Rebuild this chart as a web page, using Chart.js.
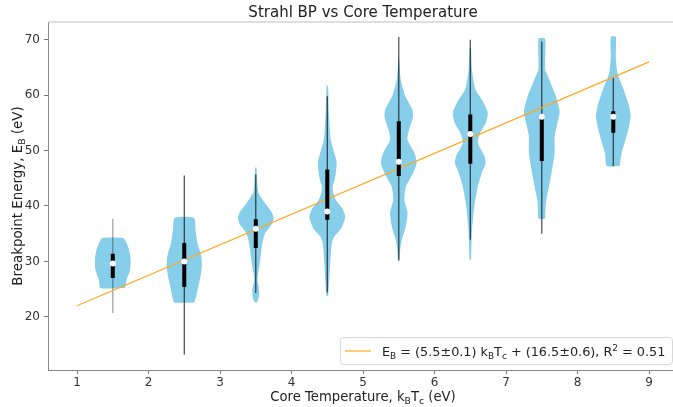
<!DOCTYPE html>
<html>
<head>
<meta charset="utf-8">
<script src="https://cdn.jsdelivr.net/npm/chart.js@4.4.1/dist/chart.umd.min.js"></script>
<style>
  html, body { margin: 0; padding: 0; background: #fff; overflow: hidden; }
</style>
</head>
<body>
<canvas id="chart" width="673" height="407"></canvas>
<script>
// temperature bins (violin centres)
const binCentres = [1.5, 2.5, 3.5, 4.5, 5.5, 6.5, 7.5, 8.5];

// violin outlines: [energy, relative density width]
const violinShapes = [
  [[25.2, 0.69], [26.7, 0.78], [28.5, 0.97], [30.3, 1.0], [32.1, 0.91], [33.4, 0.76], [34.2, 0.58]],
  [[22.6, 0.56], [23.7, 0.67], [25.5, 0.79], [27.3, 0.91], [29.1, 0.98], [30.9, 0.95], [33.3, 0.74], [35.7, 0.63], [37.85, 0.54]],
  [[22.6, 0.06], [23.3, 0.15], [24.4, 0.2], [25.5, 0.16], [26.7, 0.09], [27.9, 0.13], [30.3, 0.25], [32.7, 0.34], [34.4, 0.45],
   [35.1, 0.52], [36.6, 0.88], [37.8, 1.0], [39.0, 0.87], [40.6, 0.5], [42.4, 0.15], [44.8, 0.07], [46.9, 0.04]],
  [[23.8, 0.05], [26.7, 0.11], [29.0, 0.15], [31.5, 0.2], [33.4, 0.26], [34.5, 0.39], [36.0, 0.79], [38.0, 1.0], [39.5, 0.85],
   [41.0, 0.5], [42.4, 0.33], [43.5, 0.3], [44.8, 0.42], [46.5, 0.5], [48.0, 0.52], [49.5, 0.4], [52.0, 0.19], [56.8, 0.09], [61.7, 0.04]],
  [[30.0, 0.03], [32.1, 0.08], [33.9, 0.17], [36.3, 0.39], [38.8, 0.49], [41.1, 0.31], [43.5, 0.4], [46.0, 0.81], [47.8, 1.0],
   [49.6, 0.87], [52.0, 0.48], [53.8, 0.58], [55.9, 0.79], [57.4, 0.76], [59.8, 0.37], [62.8, 0.11], [65.8, 0.04], [66.5, 0.02]],
  [[30.3, 0.04], [35.7, 0.1], [40.0, 0.23], [43.5, 0.42], [46.0, 0.65], [47.8, 0.86], [49.0, 0.79], [51.4, 0.42], [53.2, 0.56],
   [55.0, 0.87], [56.8, 0.98], [58.9, 0.7], [61.0, 0.29], [64.6, 0.09], [68.5, 0.04]],
  [[37.7, 0.18], [40.6, 0.23], [43.5, 0.4], [46.6, 0.58], [49.6, 0.72], [52.6, 0.72], [55.0, 0.88], [57.1, 1.0], [59.8, 0.79],
   [62.8, 0.42], [64.5, 0.2], [65.8, 0.18], [70.2, 0.18]],
  [[47.2, 0.36], [49.6, 0.47], [52.0, 0.69], [54.4, 0.88], [56.2, 0.97], [58.0, 0.88], [61.0, 0.58], [64.0, 0.23], [67.0, 0.14], [70.5, 0.14]]
];

// whisker ends, quartiles and medians per bin
const whiskerLow  = [20.7, 13.2, 24.3, 24.4, 30.2, 33.9, 35.0, 47.2];
const whiskerHigh = [37.7, 45.5, 45.7, 59.8, 70.5, 70.0, 69.7, 63.1];
const quartile1   = [27.0, 25.4, 32.4, 37.5, 45.4, 47.6, 48.1, 53.2];
const quartile3   = [31.4, 33.3, 37.6, 46.6, 55.3, 56.5, 56.5, 57.1];
const medians     = [29.6, 30.0, 35.9, 39.0, 48.0, 53.0, 56.1, 56.1];

// linear fit E_B = 5.5 kT + 16.5
const fitX = [1, 9];
const fitY = [22.0, 66.0];

const xTicks = [1, 2, 3, 4, 5, 6, 7, 8, 9];
const yTicks = [20, 30, 40, 50, 60, 70];

Chart.defaults.font.family = "'DejaVu Sans', sans-serif";
Chart.defaults.color = '#333';

const halfWidth = 0.25;

// build violin polygons: up the right side, down the left side
const violinSets = violinShapes.map((shape, i) => {
  const xc = binCentres[i];
  const right = shape.map(p => ({ x: xc + p[1] * halfWidth, y: p[0] }));
  const left = shape.slice().reverse().map(p => ({ x: xc - p[1] * halfWidth, y: p[0] }));
  const pts = right.concat(left);
  pts.push(right[0]);
  return {
    data: pts,
    showLine: true,
    fill: 'shape',
    backgroundColor: '#87CEEB',
    borderWidth: 0,
    pointRadius: 0,
    tension: 0.2,
    order: 4
  };
});

const whiskerSets = binCentres.map((xc, i) => ({
  data: [{ x: xc, y: whiskerLow[i] }, { x: xc, y: whiskerHigh[i] }],
  showLine: true,
  borderColor: i === 0 ? 'rgba(0,0,0,0.38)' : 'rgba(0,0,0,0.72)',
  borderWidth: 1.2,
  pointRadius: 0,
  order: 3
}));

const boxPoints = [];
binCentres.forEach((xc, i) => {
  boxPoints.push({ x: xc, y: quartile1[i] }, { x: xc, y: quartile3[i] }, { x: xc, y: null });
});

const datasets = violinSets.concat(whiskerSets, [
  {
    data: fitX.map((x, i) => ({ x: x, y: fitY[i] })),
    showLine: true,
    borderColor: '#FFA81C',
    borderWidth: 1.2,
    pointRadius: 0,
    order: 2
  },
  {
    data: boxPoints,
    showLine: true,
    spanGaps: false,
    borderColor: '#000',
    borderWidth: 4,
    borderCapStyle: 'butt',
    pointRadius: 0,
    order: 1
  },
  {
    data: binCentres.map((x, i) => ({ x: x, y: medians[i] })),
    backgroundColor: '#fff',
    borderWidth: 0,
    pointRadius: 3,
    order: 0
  }
]);

// text with sub/superscripts
function richText(ctx, parts, x, y, size, align) {
  const measure = p => {
    ctx.font = (p[1] ? size * 0.7 : size) + "px 'DejaVu Sans'";
    return ctx.measureText(p[0]).width;
  };
  const total = parts.reduce((s, p) => s + measure(p), 0);
  let cx = align === 'center' ? x - total / 2 : x;
  ctx.textAlign = 'left';
  ctx.textBaseline = 'alphabetic';
  parts.forEach(p => {
    ctx.font = (p[1] ? size * 0.7 : size) + "px 'DejaVu Sans'";
    let dy = 0;
    if (p[1] === 1) dy = size * 0.22;
    if (p[1] === 2) dy = -size * 0.38;
    ctx.fillText(p[0], cx, y + dy);
    cx += ctx.measureText(p[0]).width;
  });
}

const decorations = {
  id: 'decorations',
  afterDraw(chart) {
    const ctx = chart.ctx;
    const a = chart.chartArea;
    const midX = (a.left + 678) / 2;
    ctx.save();

    // light top spine
    ctx.strokeStyle = '#d4d4d4';
    ctx.lineWidth = 1.5;
    ctx.beginPath();
    ctx.moveTo(a.left, a.top);
    ctx.lineTo(chart.width, a.top);
    ctx.stroke();

    ctx.fillStyle = '#222';
    ctx.font = "15px 'DejaVu Sans'";
    ctx.textAlign = 'center';
    ctx.textBaseline = 'alphabetic';
    ctx.fillText('Strahl BP vs Core Temperature', midX, 17);

    richText(ctx, [['Core Temperature, k'], ['B', 1], ['T'], ['c', 1], [' (eV)']], midX, 401, 13.2, 'center');

    ctx.save();
    ctx.translate(22, (a.top + a.bottom) / 2);
    ctx.rotate(-Math.PI / 2);
    richText(ctx, [['Breakpoint Energy, E'], ['B', 1], [' (eV)']], 0, 0, 13.4, 'center');
    ctx.restore();

    // legend
    const lx = 340, ly = 337, lw = 332, lh = 27;
    ctx.fillStyle = 'rgba(255,255,255,0.85)';
    ctx.strokeStyle = '#d8d8d8';
    ctx.lineWidth = 1;
    ctx.beginPath();
    ctx.roundRect(lx + 0.5, ly + 0.5, lw, lh, 3);
    ctx.fill();
    ctx.stroke();
    ctx.strokeStyle = '#FFA81C';
    ctx.lineWidth = 1.2;
    ctx.beginPath();
    ctx.moveTo(lx + 5, ly + 14);
    ctx.lineTo(lx + 31, ly + 14);
    ctx.stroke();
    ctx.fillStyle = '#222';
    richText(ctx, [['E'], ['B', 1], [' = (5.5\u00b10.1) k'], ['B', 1], ['T'], ['c', 1],
      [' + (16.5\u00b10.6), R'], ['2', 2], [' = 0.51']], lx + 42, ly + 19, 12.8, 'left');

    ctx.restore();
  }
};

new Chart(document.getElementById('chart'), {
  type: 'scatter',
  data: { datasets: datasets },
  options: {
    responsive: false,
    animation: false,
    layout: { autoPadding: false, padding: { top: 22, right: 0, left: 0, bottom: 0 } },
    plugins: { legend: { display: false }, tooltip: { enabled: false } },
    scales: {
      x: {
        type: 'linear',
        min: 0.594,
        max: 9.335,
        afterBuildTicks: s => { s.ticks = xTicks.map(v => ({ value: v })); },
        afterFit: s => { s.height = 37; s.paddingLeft = 0; s.paddingRight = 0; },
        ticks: { font: { size: 12 }, color: '#333', padding: 2 },
        grid: { drawOnChartArea: false, tickLength: 4, tickColor: '#777' },
        border: { color: '#888', width: 1 }
      },
      y: {
        type: 'linear',
        min: 10.4,
        max: 73.2,
        afterBuildTicks: s => { s.ticks = yTicks.map(v => ({ value: v })); },
        afterFit: s => { s.width = 48; s.paddingTop = 0; s.paddingBottom = 0; },
        ticks: { font: { size: 12 }, color: '#333', padding: 4 },
        grid: { drawOnChartArea: false, tickLength: 4, tickColor: '#777' },
        border: { color: '#888', width: 1 }
      }
    }
  },
  plugins: [decorations]
});
</script>
</body>
</html>
